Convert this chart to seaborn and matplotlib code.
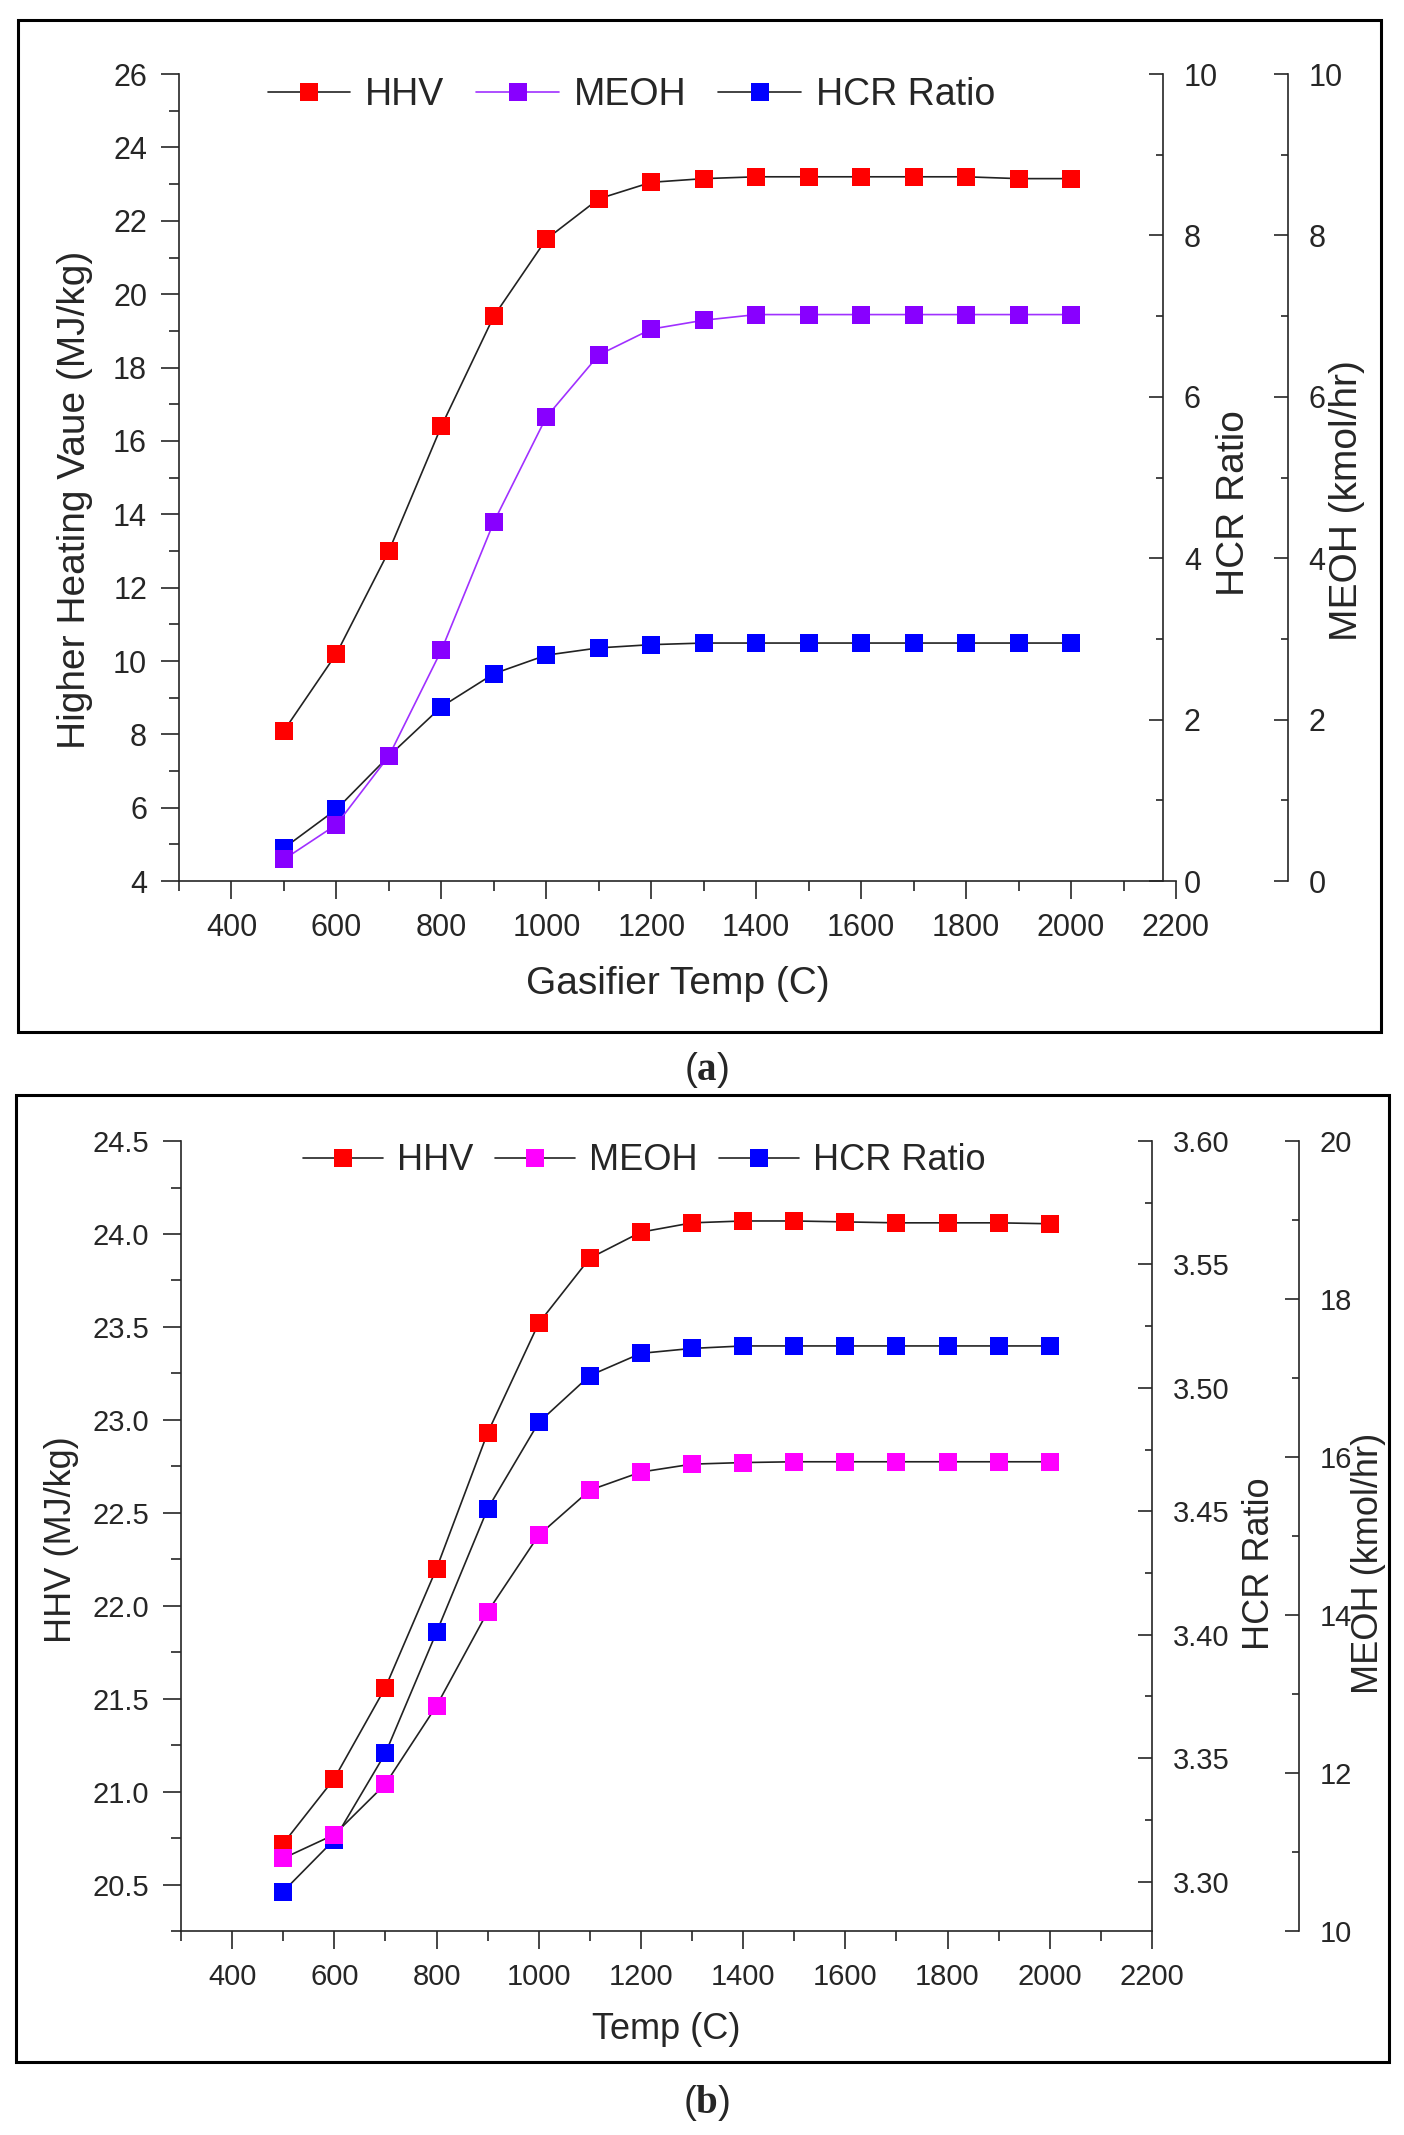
import matplotlib
matplotlib.use('Agg')
import matplotlib.pyplot as plt
from matplotlib.patches import Rectangle
from matplotlib.ticker import MultipleLocator, FormatStrFormatter
import seaborn as sns

# Data
temp = [500, 600, 700, 800, 900, 1000, 1100, 1200, 1300, 1400, 1500, 1600, 1700, 1800, 1900, 2000]

# panel (a)
hhv_a = [8.1, 10.2, 13.0, 16.4, 19.4, 21.5, 22.6, 23.05, 23.15, 23.2, 23.2, 23.2, 23.2, 23.2, 23.15, 23.15]
meoh_a = [0.27, 0.70, 1.55, 2.86, 4.45, 5.75, 6.52, 6.84, 6.95, 7.02, 7.02, 7.02, 7.02, 7.02, 7.02, 7.02]
hcr_a = [0.41, 0.89, 1.55, 2.16, 2.57, 2.80, 2.89, 2.93, 2.95, 2.95, 2.95, 2.95, 2.95, 2.95, 2.95, 2.95]

# panel (b)
hhv_b = [20.72, 21.07, 21.56, 22.2, 22.93, 23.52, 23.87, 24.01, 24.06, 24.07, 24.07, 24.065, 24.06, 24.06, 24.06, 24.055]
meoh_b = [10.92, 11.22, 11.86, 12.85, 14.04, 15.01, 15.58, 15.81, 15.91, 15.93, 15.94, 15.94, 15.94, 15.94, 15.94, 15.94]
hcr_b = [3.296, 3.317, 3.352, 3.401, 3.451, 3.486, 3.505, 3.514, 3.516, 3.517, 3.517, 3.517, 3.517, 3.517, 3.517, 3.517]

sns.set_theme(style='ticks')
plt.rcParams['font.family'] = ['Liberation Sans', 'DejaVu Sans']
plt.rcParams['mathtext.fontset'] = 'custom'
plt.rcParams['mathtext.rm'] = 'Liberation Serif'
plt.rcParams['mathtext.bf'] = 'Liberation Serif:bold'
plt.rcParams['axes.linewidth'] = 1.2

fig = plt.figure(figsize=(14.04, 21.35), dpi=100)


def series(ax, y, line_col, mark_col):
    sns.lineplot(x=temp, y=y, ax=ax, color=line_col, linewidth=1.2, marker='s',
                 markersize=13, markerfacecolor=mark_col, markeredgecolor=mark_col,
                 markeredgewidth=0, legend=False)
    return ax.lines[-1]


def style_right(tw, pos, lim, major, minor, fmt, tsize):
    tw.set_ylim(*lim)
    for s in ['left', 'top', 'bottom']:
        tw.spines[s].set_visible(False)
    tw.spines['right'].set_position(('axes', pos))
    tw.spines['right'].set_linewidth(1.2)
    tw.yaxis.set_major_locator(MultipleLocator(major))
    tw.yaxis.set_minor_locator(MultipleLocator(minor))
    tw.yaxis.set_major_formatter(FormatStrFormatter(fmt))
    tw.tick_params(axis='y', which='major', direction='in', length=10, width=1.2,
                   pad=15, labelsize=tsize, right=True, left=False)
    tw.tick_params(axis='y', which='minor', direction='in', length=5, width=1.2,
                   right=True, left=False)


def panel(rect, hhv, meoh, hcr, meoh_col, meoh_line, lims, fmts, majors, minors,
          spine_pos, labels, label_pos, leg_xy, tsize, lsize, legsize, colsp):
    ax = fig.add_axes(rect)
    t1 = ax.twinx()
    t2 = ax.twinx()
    h1 = series(ax, hhv, '#222222', '#ff0000')
    h3 = series(t1, hcr, '#222222', '#0000ff')
    h2 = series(t2, meoh, meoh_line, meoh_col)

    ax.set_xlim(300, 2200)
    ax.set_ylim(*lims[0])
    ax.xaxis.set_major_locator(MultipleLocator(200))
    ax.xaxis.set_minor_locator(MultipleLocator(100))
    ax.yaxis.set_major_locator(MultipleLocator(majors[0]))
    ax.yaxis.set_minor_locator(MultipleLocator(minors[0]))
    ax.yaxis.set_major_formatter(FormatStrFormatter(fmts[0]))
    ax.spines['top'].set_visible(False)
    ax.spines['right'].set_visible(False)
    ax.tick_params(which='major', direction='out', length=13, width=1.2, pad=10, labelsize=tsize)
    ax.tick_params(which='minor', direction='out', length=7, width=1.2)

    style_right(t1, spine_pos[0], lims[1], majors[1], minors[1], fmts[1], tsize)
    style_right(t2, spine_pos[1], lims[2], majors[2], minors[2], fmts[2], tsize)

    ax.set_xlabel(labels[0], fontsize=lsize)
    ax.set_ylabel(labels[1], fontsize=lsize)
    t1.set_ylabel(labels[2], fontsize=lsize)
    t2.set_ylabel(labels[3], fontsize=lsize)
    ax.xaxis.set_label_coords(*label_pos[0])
    ax.yaxis.set_label_coords(*label_pos[1])
    t1.yaxis.set_label_coords(*label_pos[2])
    t2.yaxis.set_label_coords(*label_pos[3])

    t2.legend([h1, h2, h3], ['HHV', 'MEOH', 'HCR Ratio'], loc='center left',
              bbox_to_anchor=leg_xy, ncol=3, frameon=False, fontsize=legsize,
              borderpad=0, borderaxespad=0, handlelength=2.2, handletextpad=0.4,
              columnspacing=colsp)
    return ax


panel([0.1275, 0.5873, 0.7101, 0.3780], hhv_a, meoh_a, hcr_a, '#8800ff', '#a030ff',
      [(4, 26), (0, 10), (0, 10)], ['%d', '%d', '%d'], [2, 2, 2], [1, 1, 1],
      (0.987, 1.112),
      ['Gasifier Temp (C)', 'Higher Heating Vaue (MJ/kg)', 'HCR Ratio', 'MEOH (kmol/hr)'],
      [(0.5, -0.105), (-0.086, 0.472), (1.040, 0.468), (1.153, 0.472)],
      (0.089, 0.974), 22, 28, 27, 0.85)

panel([0.1289, 0.09555, 0.6916, 0.3700], hhv_b, meoh_b, hcr_b, '#ff00ff', '#222222',
      [(20.25, 24.5), (3.28, 3.60), (10, 20)], ['%.1f', '%.2f', '%d'], [0.5, 0.05, 2],
      [0.25, 0.025, 1],
      (1.0, 1.151),
      ['Temp (C)', 'HHV (MJ/kg)', 'HCR Ratio', 'MEOH (kmol/hr)'],
      [(0.5, -0.102), (-0.105, 0.495), (1.093, 0.465), (1.205, 0.465)],
      (0.126, 0.975), 21, 26, 26, 0.6)

# panel borders
fig.patches.append(Rectangle((0.0128, 0.5166), 0.9708, 0.4740, transform=fig.transFigure,
                             fill=False, edgecolor='black', linewidth=2.2))
fig.patches.append(Rectangle((0.0114, 0.0342), 0.978, 0.4529, transform=fig.transFigure,
                             fill=False, edgecolor='black', linewidth=2.2))

fig.text(0.503, 0.4988, r'($\mathbf{a}$)', fontsize=28, ha='center', va='center')
fig.text(0.503, 0.015, r'($\mathbf{b}$)', fontsize=28, ha='center', va='center')

fig.savefig('out.png', dpi=100, facecolor='white')
